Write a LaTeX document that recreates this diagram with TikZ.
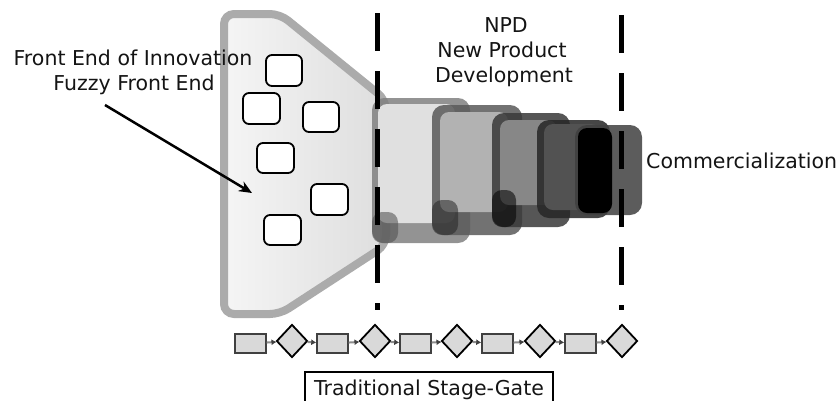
\documentclass[tikz,border=0pt]{standalone}
\usepackage{fontspec}
\setmainfont{DejaVu Sans}
\usetikzlibrary{shapes.geometric,arrows.meta}
\definecolor{funnelrim}{HTML}{ABABAB}
\tikzset{
  lbl/.style={font=\fontsize{20.5}{25}\selectfont, inner sep=0pt, text=black!92},
  idea/.style={draw=black, fill=white, line width=1.8pt, rounded corners=6pt},
  stageback/.style={rounded corners=12pt, fill opacity=0.85},
  stagefront/.style={rounded corners=9pt},
  stageshade/.style={rounded corners=10pt, fill opacity=0.55},
  gateline/.style={line width=5pt, dash pattern=on 38pt off 20pt},
  stagebox/.style={draw=black!75, fill=black!15, line width=1.4pt, minimum width=31pt, minimum height=19pt, inner sep=0pt},
  gatebox/.style={diamond, draw=black, fill=black!15, line width=1.8pt, minimum width=31pt, minimum height=33pt, inner sep=0pt},
  chainarrow/.style={draw=black!45, line width=2pt, -{Latex[length=5pt,width=6pt,color=black!75]}},
}
\begin{document}
\begin{tikzpicture}[x=1pt,y=-1pt]
\useasboundingbox (0,0) rectangle (836,400);

% funnel
\path[left color=black!4, right color=black!13, draw=funnelrim, line width=8pt, rounded corners=10pt]
  (224,14) -- (280,14) -- (386,100) -- (386,245) -- (280,314) -- (224,314) -- cycle;

% ideas
\draw[idea] (266,55) rectangle (302,86);
\draw[idea] (243,93) rectangle (280,124);
\draw[idea] (303,102) rectangle (339,132);
\draw[idea] (257,143) rectangle (294,173);
\draw[idea] (311,184) rectangle (348,215);
\draw[idea] (264,215) rectangle (301,245);

% stages
\fill[stageback, fill=black!50] (372,98) rectangle (470,243);
\fill[stagefront, fill=black!12] (378,104) rectangle (455,223);
\fill[stageshade, fill=black!70] (372,212) rectangle (398,243);

\fill[stageback, fill=black!65] (432,105) rectangle (522,235);
\fill[stagefront, fill=black!30] (440,112) rectangle (508,212);
\fill[stageshade, fill=black!85] (432,200) rectangle (458,235);

\fill[stageback, fill=black!78] (492,113) rectangle (570,227);
\fill[stagefront, fill=black!47] (500,120) rectangle (557,205);
\fill[stageshade, fill=black] (492,190) rectangle (516,227);

\fill[stageback, fill=black!85] (537,120) rectangle (610,218);
\fill[stagefront, fill=black!68] (544,124) rectangle (600,210);

\fill[stageback, fill=black!75] (575,125) rectangle (642,215);
\fill[stagefront, fill=black] (578,128) rectangle (612,213);

% gate lines
\draw[gateline] (377,13) -- (377,310);
\draw[gateline] (621,15) -- (621,310);

% labels
\node[lbl, anchor=base] (fei) at (133,65) {Front End of Innovation};
\node[lbl, anchor=base] (ffe) at (134,90) {Fuzzy Front End};
\coordinate (ffetip) at (252,193);
\coordinate (ffetail) at (105,105);
\draw[line width=2.5pt, -{Stealth[length=13pt,width=11pt]}] (ffetail) -- (ffetip);

\node[lbl, anchor=base] (npd) at (506,32) {NPD};
\node[lbl, anchor=base] (npd2) at (502,57) {New Product};
\node[lbl, anchor=base] (npd3) at (504,82) {Development};
\node[lbl, anchor=base west] (comm) at (646,168) {Commercialization};

% stage-gate chain
\node[stagebox] (s1) at (250.5,343.5) {};
\node[gatebox] (g1) at (292,341) {};
\node[stagebox] (s2) at (332.5,343.5) {};
\node[gatebox] (g2) at (375,341) {};
\node[stagebox] (s3) at (415.5,343.5) {};
\node[gatebox] (g3) at (457,341) {};
\node[stagebox] (s4) at (497.5,343.5) {};
\node[gatebox] (g4) at (540,341) {};
\node[stagebox] (s5) at (580.5,343.5) {};
\node[gatebox] (g5) at (622,341) {};
\draw[chainarrow] (s1) -- (g1);
\draw[chainarrow] (g1) -- (s2);
\draw[chainarrow] (s2) -- (g2);
\draw[chainarrow] (g2) -- (s3);
\draw[chainarrow] (s3) -- (g3);
\draw[chainarrow] (g3) -- (s4);
\draw[chainarrow] (s4) -- (g4);
\draw[chainarrow] (g4) -- (s5);
\draw[chainarrow] (s5) -- (g5);

\node[lbl, draw=black, line width=1.2pt, minimum width=248pt, minimum height=36pt] (tsg) at (429,390) {Traditional Stage-Gate};
\end{tikzpicture}
\end{document}
